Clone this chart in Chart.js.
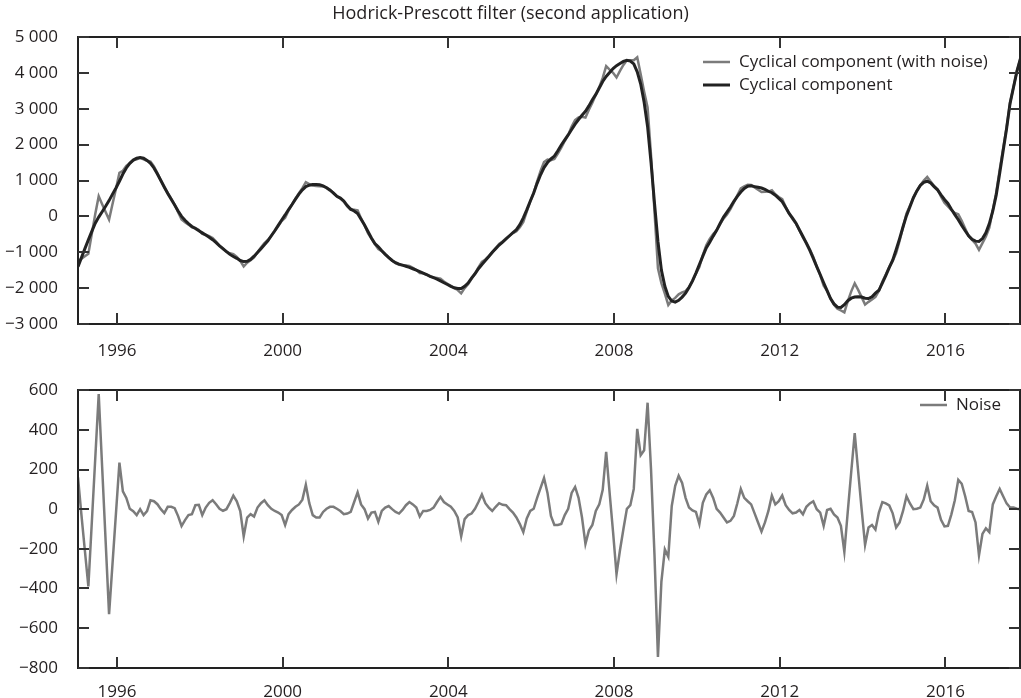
<!DOCTYPE html>
<html>
<head>
<meta charset="utf-8">
<title>Hodrick-Prescott filter (second application)</title>
<script src="https://cdn.jsdelivr.net/npm/chart.js@4.4.1/dist/chart.umd.min.js"></script>
<style>
  html, body { margin: 0; padding: 0; background: #fff; }
  #wrap { position: relative; width: 1021px; height: 698px; }
  canvas { position: absolute; left: 0; }
  #topChart { top: 0; }
  #bottomChart { top: 360px; }
  .frame { position: absolute; box-sizing: border-box; border: 2.5px solid #222; pointer-events: none; }
  .tick { position: absolute; background: #333; pointer-events: none; }
</style>
</head>
<body>
<div id="wrap">
  <canvas id="topChart" width="1021" height="360"></canvas>
  <canvas id="bottomChart" width="1021" height="338"></canvas>
</div>
<script>
// monthly observations, first one just after Jan 1995
const START_YEAR = 1995.06;
const END_YEAR = 2017.80;
const yearTicks = [1996, 2000, 2004, 2008, 2012, 2016];

// smooth cyclical component (black)
const cycle = [
  -1400, -1150, -900, -655, -420, -190, -20, 130, 280, 440,
  620, 790, 980, 1180, 1350, 1480, 1570, 1620, 1640, 1620,
  1560, 1480, 1350, 1180, 1000, 820, 640, 480, 320, 150,
  0, -110, -200, -280, -340, -400, -460, -520, -580, -650,
  -730, -820, -900, -980, -1060, -1120, -1170, -1230, -1260, -1250,
  -1200, -1110, -1010, -900, -790, -680, -540, -400, -250, -100,
  40, 190, 330, 480, 620, 740, 830, 870, 890, 890,
  880, 850, 800, 730, 650, 560, 510, 430, 300, 200,
  150, 80, -80, -240, -420, -600, -760, -850, -960, -1060,
  -1150, -1230, -1290, -1330, -1360, -1390, -1420, -1460, -1500, -1540,
  -1580, -1620, -1670, -1710, -1750, -1800, -1850, -1900, -1950, -1990,
  -2010, -2010, -1950, -1860, -1720, -1600, -1460, -1340, -1230, -1120,
  -1000, -900, -800, -720, -630, -540, -450, -370, -230, -40,
  180, 420, 650, 920, 1160, 1360, 1500, 1600, 1680, 1830,
  1990, 2130, 2270, 2420, 2570, 2700, 2820, 2930, 3080, 3250,
  3400, 3580, 3760, 3900, 4010, 4120, 4200, 4260, 4320, 4350,
  4330, 4250, 4030, 3690, 3180, 2500, 1500, 370, -700, -1500,
  -1950, -2230, -2360, -2390, -2340, -2250, -2140, -1980, -1800, -1580,
  -1340, -1110, -880, -720, -550, -390, -200, -20, 120, 260,
  420, 560, 680, 780, 840, 850, 830, 810, 790, 750,
  700, 660, 590, 500, 410, 250, 80, -50, -190, -380,
  -560, -750, -950, -1170, -1400, -1620, -1850, -2070, -2290, -2440,
  -2530, -2540, -2460, -2350, -2280, -2250, -2240, -2250, -2280, -2290,
  -2240, -2140, -2060, -1860, -1650, -1430, -1220, -930, -620, -290,
  20, 270, 520, 710, 860, 950, 980, 930, 830, 740,
  600, 470, 360, 200, 50, -90, -250, -400, -540, -640,
  -690, -700, -620, -460, -200, 150, 600, 1200, 1830, 2450,
  3150, 3600, 4050, 4400
];

// cyclical component with noise (grey)
const cycleNoisy = [
  -1240, -1180, -1110, -1045, -487, 67, 560, 340, 120, -90,
  345, 770, 1215, 1270, 1407, 1482, 1560, 1590, 1640, 1590,
  1550, 1525, 1390, 1205, 1000, 800, 652, 492, 325, 115,
  -85, -165, -230, -305, -320, -378, -490, -512, -548, -605,
  -705, -818, -908, -980, -1028, -1052, -1130, -1240, -1397, -1292,
  -1225, -1147, -1002, -870, -745, -660, -538, -409, -267, -130,
  -40, 165, 326, 492, 644, 788, 953, 900, 860, 848,
  838, 836, 802, 742, 662, 562, 501, 405, 278, 186,
  186, 165, -56, -240, -467, -617, -774, -914, -969, -1052,
  -1134, -1230, -1304, -1352, -1364, -1370, -1384, -1436, -1492, -1577,
  -1589, -1629, -1674, -1702, -1714, -1738, -1814, -1876, -1938, -1999,
  -2052, -2147, -2000, -1890, -1742, -1598, -1424, -1266, -1200, -1112,
  -1009, -888, -770, -698, -610, -540, -467, -412, -305, -156,
  133, 411, 652, 977, 1267, 1517, 1582, 1566, 1600, 1750,
  1915, 2100, 2272, 2502, 2682, 2757, 2778, 2755, 2972, 3170,
  3391, 3604, 3858, 4189, 4092, 4004, 3872, 4053, 4220, 4352,
  4350, 4352, 4435, 3962, 3477, 3037, 1698, 138, -1445, -1865,
  -2153, -2470, -2344, -2272, -2172, -2118, -2083, -1972, -1806, -1594,
  -1415, -1078, -806, -625, -493, -388, -217, -62, 53, 201,
  386, 590, 782, 837, 880, 874, 809, 743, 677, 683,
  691, 729, 614, 540, 479, 270, 76, -71, -207, -384,
  -586, -738, -921, -1130, -1400, -1637, -1934, -2074, -2288, -2466,
  -2572, -2624, -2676, -2360, -2090, -1867, -2050, -2250, -2460, -2382,
  -2320, -2243, -2077, -1824, -1621, -1411, -1241, -1022, -687, -299,
  85, 299, 520, 712, 868, 999, 1098, 970, 849, 748,
  546, 383, 276, 174, 95, 58, -122, -335, -549, -654,
  -757, -933, -745, -557, -316, 174, 665, 1302, 1895, 2479,
  3158, 3608, 4052, 4400
];

// noise (lower panel)
const noise = [
  160, -30, -210, -390, -67, 257, 580, 210, -160, -530,
  -275, -20, 235, 90, 57, 2, -10, -30, 0, -30,
  -10, 45, 40, 25, 0, -20, 12, 12, 5, -35,
  -85, -55, -30, -25, 20, 22, -30, 8, 32, 45,
  25, 2, -8, 0, 32, 68, 40, -10, -137, -42,
  -25, -37, 8, 30, 45, 20, 2, -9, -17, -30,
  -80, -25, -4, 12, 24, 48, 123, 30, -30, -42,
  -42, -14, 2, 12, 12, 2, -9, -25, -22, -14,
  36, 85, 24, 0, -47, -17, -14, -64, -9, 8,
  16, 0, -14, -22, -4, 20, 36, 24, 8, -37,
  -9, -9, -4, 8, 36, 62, 36, 24, 12, -9,
  -42, -137, -50, -30, -22, 2, 36, 74, 30, 8,
  -9, 12, 30, 22, 20, 0, -17, -42, -75, -116,
  -47, -9, 2, 57, 107, 157, 82, -34, -80, -80,
  -75, -30, 2, 82, 112, 57, -42, -175, -108, -80,
  -9, 24, 98, 289, 82, -116, -328, -207, -100, 2,
  20, 102, 405, 272, 297, 537, 198, -232, -745, -365,
  -203, -240, 16, 118, 168, 132, 57, 8, -6, -14,
  -75, 32, 74, 95, 57, 2, -17, -42, -67, -59,
  -34, 30, 102, 57, 40, 24, -21, -67, -113, -67,
  -9, 69, 24, 40, 69, 20, -4, -21, -17, -4,
  -26, 12, 29, 40, 0, -17, -84, -4, 2, -26,
  -42, -84, -216, -10, 190, 383, 190, 0, -180, -92,
  -80, -103, -17, 36, 29, 19, -21, -92, -67, -9,
  65, 29, 0, 2, 8, 49, 118, 40, 19, 8,
  -54, -87, -84, -26, 45, 148, 128, 65, -9, -14,
  -67, -233, -125, -97, -116, 24, 65, 102, 65, 29,
  8, 8, 2, 0
];

const GREY = '#7b7b7b';
const BLACK = '#222222';
const INK = '#231f20';
const FONT = '"Open Sans", "Noto Sans", sans-serif';

Chart.defaults.font.family = FONT;
Chart.defaults.font.size = 17;
Chart.defaults.color = INK;

const toPoints = arr => arr.map((v, i) => ({ x: START_YEAR + i / 12, y: v }));

function fmtNum(v) {
  const s = Math.abs(v).toString().replace(/\B(?=(\d{3})+(?!\d))/g, ' ');
  return (v < 0 ? '\u2212' : '') + s;
}

// title and legend on the canvas
const labelPlugin = {
  id: 'labels',
  afterDraw(chart, args, opts) {
    const ctx = chart.ctx;
    ctx.save();
    ctx.fillStyle = INK;
    ctx.textBaseline = 'middle';
    if (opts.title) {
      ctx.font = '18px ' + FONT;
      ctx.textAlign = 'center';
      ctx.fillText(opts.title, chart.width / 2, 14);
    }
    if (opts.legend) {
      const lg = opts.legend;
      ctx.font = '17px ' + FONT;
      ctx.textAlign = 'left';
      chart.data.datasets.forEach((ds, k) => {
        const y = lg.y + k * lg.gap;
        ctx.strokeStyle = ds.borderColor;
        ctx.lineWidth = ds.borderWidth;
        ctx.beginPath();
        ctx.moveTo(lg.x, y);
        ctx.lineTo(lg.x + 27, y);
        ctx.stroke();
        ctx.fillText(ds.label, lg.x + 36, y);
      });
    }
    ctx.restore();
  }
};

// box and inward ticks as an overlay, placed from the chart's own scales
function addFrame(chart, offsetTop, fallback) {
  const wrap = document.getElementById('wrap');
  const xs = chart.scales.x;
  const ys = chart.scales.y;
  const pick = (v, f) => (Number.isFinite(v) ? v : f);
  const left = pick(xs.getPixelForValue(START_YEAR), fallback[0]);
  const right = pick(xs.getPixelForValue(END_YEAR), fallback[1]);
  const top = pick(ys.getPixelForValue(ys.max), fallback[2]);
  const bottom = pick(ys.getPixelForValue(ys.min), fallback[3]);
  const len = 11;

  const box = document.createElement('div');
  box.className = 'frame';
  box.style.left = (left - 1.25) + 'px';
  box.style.top = (offsetTop + top - 1.25) + 'px';
  box.style.width = (right - left + 2.5) + 'px';
  box.style.height = (bottom - top + 2.5) + 'px';
  wrap.appendChild(box);

  const tick = (x, y, w, h) => {
    const d = document.createElement('div');
    d.className = 'tick';
    d.style.left = x + 'px';
    d.style.top = (offsetTop + y) + 'px';
    d.style.width = w + 'px';
    d.style.height = h + 'px';
    wrap.appendChild(d);
  };
  yearTicks.forEach(v => {
    const x = xs.getPixelForValue(v);
    if (!Number.isFinite(x)) return;
    tick(x - 1, top, 2, len);
    tick(x - 1, bottom - len, 2, len);
  });
  ys.ticks.forEach(t => {
    const y = ys.getPixelForValue(t.value);
    if (!Number.isFinite(y)) return;
    tick(left, y - 1, len, 2);
    tick(right - len, y - 1, len, 2);
  });
}

function xAxis(height, pad) {
  return {
    type: 'linear',
    min: START_YEAR,
    max: END_YEAR,
    grid: { display: false, drawTicks: false },
    border: { display: false },
    afterBuildTicks: s => { s.ticks = yearTicks.map(v => ({ value: v })); },
    afterFit: s => { s.height = height; },
    ticks: { padding: pad, maxRotation: 0, autoSkip: false, callback: v => String(v) }
  };
}

function yAxis(min, max, step) {
  return {
    min: min,
    max: max,
    grid: { display: false, drawTicks: false },
    border: { display: false },
    afterFit: s => { s.width = 78; },
    ticks: { stepSize: step, padding: 20, callback: v => fmtNum(v) }
  };
}

const topChart = new Chart(document.getElementById('topChart'), {
  type: 'line',
  data: {
    datasets: [
      {
        label: 'Cyclical component (with noise)',
        data: toPoints(cycleNoisy),
        borderColor: GREY,
        borderWidth: 2.5,
        order: 1
      },
      {
        label: 'Cyclical component',
        data: toPoints(cycle),
        borderColor: BLACK,
        borderWidth: 3,
        order: 0
      }
    ]
  },
  options: {
    responsive: false,
    animation: false,
    layout: { padding: { top: 37, right: 1, left: 0, bottom: 0 } },
    elements: { point: { radius: 0 }, line: { tension: 0 } },
    plugins: {
      legend: { display: false },
      tooltip: { enabled: false },
      labels: {
        title: 'Hodrick-Prescott filter (second application)',
        legend: { x: 703, y: 62, gap: 23 }
      }
    },
    scales: { x: xAxis(36, 17), y: yAxis(-3000, 5000, 1000) }
  },
  plugins: [labelPlugin]
});

const bottomChart = new Chart(document.getElementById('bottomChart'), {
  type: 'line',
  data: {
    datasets: [
      {
        label: 'Noise',
        data: toPoints(noise),
        borderColor: GREY,
        borderWidth: 2.5
      }
    ]
  },
  options: {
    responsive: false,
    animation: false,
    layout: { padding: { top: 22, right: 1, left: 0, bottom: 0 } },
    elements: { point: { radius: 0 }, line: { tension: 0 } },
    plugins: {
      legend: { display: false },
      tooltip: { enabled: false },
      labels: { legend: { x: 920, y: 45, gap: 23 } }
    },
    scales: { x: xAxis(30, 14), y: yAxis(-800, 600, 200) }
  },
  plugins: [labelPlugin]
});

addFrame(topChart, 0, [78, 1020, 37, 324]);
addFrame(bottomChart, 360, [78, 1020, 22, 308]);
</script>
</body>
</html>
